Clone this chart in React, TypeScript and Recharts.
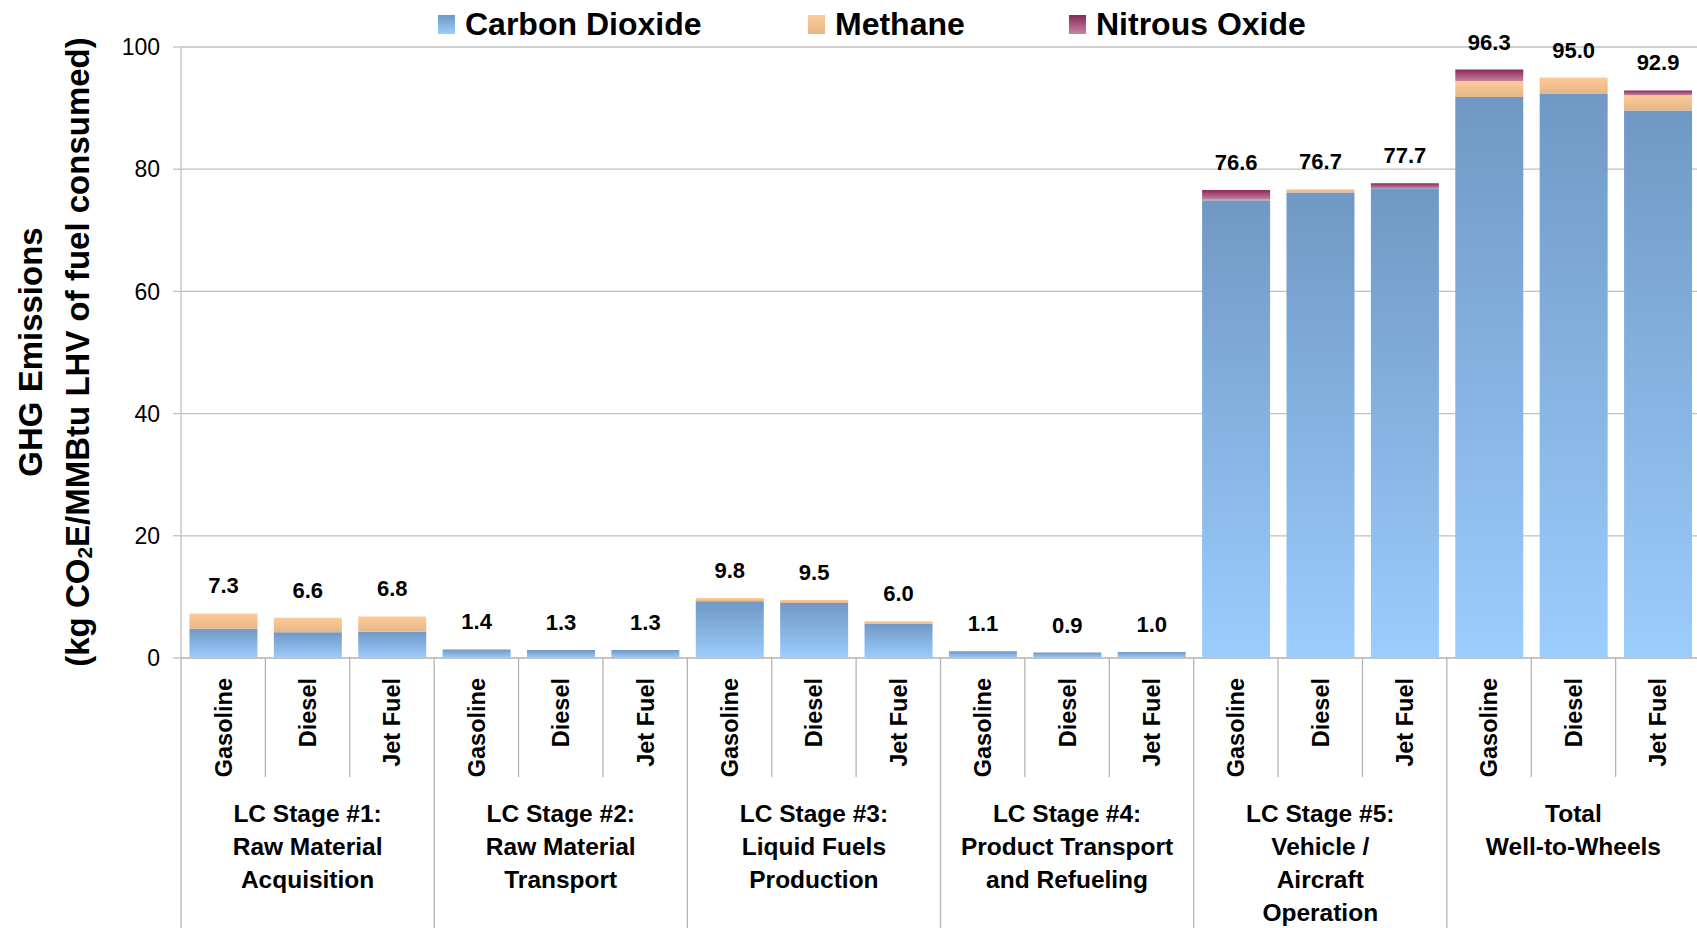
import React from 'react';
import { BarChart, Bar, XAxis, YAxis, CartesianGrid, Legend, LabelList } from 'recharts';

// ---------- data ----------
const fuels = ['Gasoline', 'Diesel', 'Jet Fuel'];
const stageLabels: string[][] = [
  ['LC Stage #1:', 'Raw Material', 'Acquisition'],
  ['LC Stage #2:', 'Raw Material', 'Transport'],
  ['LC Stage #3:', 'Liquid Fuels', 'Production'],
  ['LC Stage #4:', 'Product Transport', 'and Refueling'],
  ['LC Stage #5:', 'Vehicle /', 'Aircraft', 'Operation'],
  ['Total', 'Well-to-Wheels'],
];
const co2 = [4.8, 4.2, 4.3, 1.4, 1.3, 1.3, 9.3, 9.0, 5.6, 1.1, 0.9, 1.0, 74.9, 76.2, 76.9, 91.8, 92.4, 89.6];
const methane = [2.5, 2.4, 2.5, 0, 0, 0, 0.5, 0.5, 0.4, 0, 0, 0, 0.1, 0.5, 0, 2.6, 2.6, 2.5];
const nitrous = [0, 0, 0, 0, 0, 0, 0, 0, 0, 0, 0, 0, 1.6, 0, 0.8, 1.9, 0, 0.8];
const totals = [7.3, 6.6, 6.8, 1.4, 1.3, 1.3, 9.8, 9.5, 6.0, 1.1, 0.9, 1.0, 76.6, 76.7, 77.7, 96.3, 95.0, 92.9];
const yTicks = [0, 20, 40, 60, 80, 100];
const seriesNames = ['Carbon Dioxide', 'Methane', 'Nitrous Oxide'];

const data = co2.map((v, i) => ({
  id: i,
  co2: v,
  methane: methane[i],
  nitrous: nitrous[i],
  total: totals[i],
}));

// ---------- layout ----------
const W = 1700;
const H = 928;
const TOP = 47;
const YAXIS_W = 181;
const XAXIS_H = 270;
const ZERO_Y = H - XAXIS_H;
const STEP = (W - YAXIS_W) / data.length;
const FONT = '"Liberation Sans", Arial, sans-serif';
const GRID = '#c0c0c0';
const SEP = '#b4b4b4';

const colors = {
  co2: ['#7098c4', '#9bcdfd'],
  methane: ['#fdcb97', '#e5b689'],
  nitrous: ['#8b2858', '#c6839f'],
};

const FuelTick = (props: any) => {
  const { x, payload } = props;
  const i = Number(payload.value);
  const k = i % 3;
  const half = STEP / 2;
  const g = Math.floor(i / 3);
  const rx = x + half;
  return (
    <g>
      <g transform={`translate(${x},${678}) rotate(-90)`}>
        <text x={0} y={0} dy="0.36em" textAnchor="end" fontFamily={FONT} fontWeight="bold" fontSize={23.5} fill="#000">
          {fuels[k]}
        </text>
      </g>
      <line x1={rx} x2={rx} y1={ZERO_Y} y2={k === 2 ? H : 777} stroke={SEP} strokeWidth={1.3} />
      {i === 0 && <line x1={x - half} x2={x - half} y1={ZERO_Y} y2={H} stroke={SEP} strokeWidth={1.3} />}
      {k === 1 &&
        stageLabels[g].map((line, j) => (
          <text key={j} x={x} y={822 + j * 33} textAnchor="middle" fontFamily={FONT} fontWeight="bold" fontSize={24.5} fill="#000">
            {line}
          </text>
        ))}
    </g>
  );
};

const YTitle = () => (
  <g fontFamily={FONT} fontWeight="bold" fontSize={33} fill="#000">
    <text transform={`translate(30,352) rotate(-90)`} textAnchor="middle" dominantBaseline="central">
      GHG Emissions
    </text>
    <text transform={`translate(77,352) rotate(-90)`} textAnchor="middle" dominantBaseline="central">
      (kg CO<tspan fontSize={21} dy={7}>2</tspan>
      <tspan dy={-7}>E/MMBtu LHV of fuel consumed)</tspan>
    </text>
  </g>
);

// label drawn from the CO2 bar: its own height/value gives px per unit, so the
// stack top is found from the bar geometry produced by the library's scale
const TotalLabel = (p: any) => {
  const { x, y, width, height, value, index } = p;
  const base = co2[index];
  const perUnit = base > 0 ? Math.abs(height) / base : 0;
  const topY = y - (Number(value) - base) * perUnit;
  return (
    <text x={x + width / 2} y={topY - 20} textAnchor="middle" fontFamily={FONT} fontWeight="bold" fontSize={22} fill="#000">
      {Number(value).toFixed(1)}
    </text>
  );
};

const legendPos = [438, 808, 1069];
const legendCols = [colors.co2, colors.methane, colors.nitrous];

const LegendContent = () => (
  <div style={{ position: 'relative', width: 1697, height: 48 }}>
    {seriesNames.map((n, i) => (
      <div key={n} style={{ position: 'absolute', left: legendPos[i], top: 5, height: 38, display: 'flex', alignItems: 'center' }}>
        <span
          style={{
            display: 'inline-block',
            width: 17,
            height: 19,
            background: `linear-gradient(to bottom, ${legendCols[i][0]}, ${legendCols[i][1]})`,
            marginRight: 10,
          }}
        />
        <span style={{ fontFamily: FONT, fontWeight: 'bold', fontSize: 32, lineHeight: '38px', color: '#000', whiteSpace: 'nowrap' }}>{n}</span>
      </div>
    ))}
  </div>
);

export default function App() {
  return (
    <div style={{ position: 'absolute', left: 0, top: 0, width: 1697, height: 928, overflow: 'hidden', background: '#fff' }}>
      <BarChart width={W} height={H} data={data} margin={{ top: TOP, right: 0, left: 0, bottom: 0 }} barCategoryGap="10%">
        <defs>
          {(['co2', 'methane', 'nitrous'] as const).map((k) => (
            <linearGradient key={k} id={`g-${k}`} x1="0" y1="0" x2="0" y2="1">
              <stop offset="0%" stopColor={colors[k][0]} />
              <stop offset="100%" stopColor={colors[k][1]} />
            </linearGradient>
          ))}
        </defs>
        <CartesianGrid vertical={false} stroke={GRID} strokeWidth={1.3} />
        <XAxis
          dataKey="id"
          type="category"
          interval={0}
          height={XAXIS_H}
          tickLine={false}
          axisLine={{ stroke: GRID, strokeWidth: 1.3 }}
          tick={<FuelTick />}
        />
        <YAxis
          width={YAXIS_W}
          domain={[0, 100]}
          ticks={yTicks}
          tickSize={8}
          tickMargin={13}
          tickLine={{ stroke: GRID, strokeWidth: 1.3 }}
          axisLine={{ stroke: GRID, strokeWidth: 1.3 }}
          tick={{ fontFamily: FONT, fontSize: 23, fill: '#000' }}
          label={{ content: () => <YTitle /> }}
        />
        <Legend
          verticalAlign="middle"
          align="center"
          layout="horizontal"
          wrapperStyle={{ position: 'absolute', left: 0, top: 0, width: 1697, height: 48 }}
          content={() => <LegendContent />}
        />
        <Bar dataKey="co2" name={seriesNames[0]} stackId="a" fill="url(#g-co2)" isAnimationActive={false}>
          <LabelList dataKey="total" content={<TotalLabel />} />
        </Bar>
        <Bar dataKey="methane" name={seriesNames[1]} stackId="a" fill="url(#g-methane)" isAnimationActive={false} />
        <Bar dataKey="nitrous" name={seriesNames[2]} stackId="a" fill="url(#g-nitrous)" isAnimationActive={false} />
      </BarChart>
    </div>
  );
}
